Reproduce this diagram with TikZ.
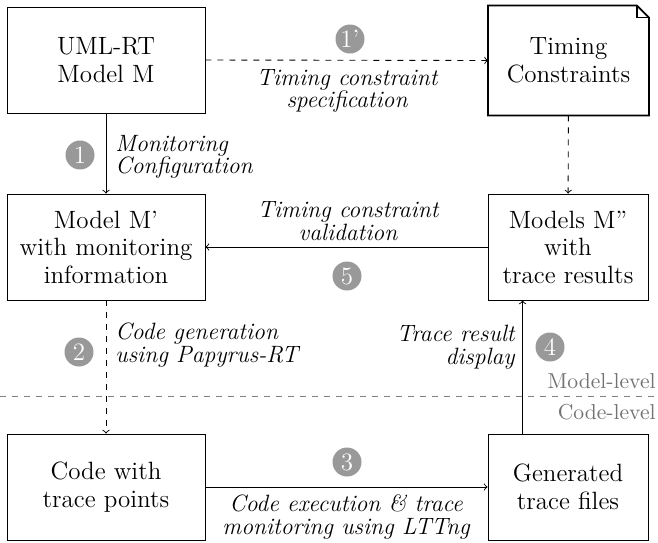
\documentclass[tikz,border=0pt]{standalone}
\usetikzlibrary{calc}

% Fonts for box captions, edge labels and the level annotations
\newcommand\boxfont{\fontsize{12.5}{13.75}\selectfont}
\newcommand\lblfont{\fontsize{11.8}{11.25}\selectfont\itshape}
\newcommand\lvlfont{\fontsize{10.8}{13}\selectfont}

\tikzset{
  box/.style={draw, line width=0.45pt, minimum width=99pt, minimum height=53pt,
              inner sep=0pt, align=center, font=\boxfont},
  rbox/.style={box, minimum width=80pt},
  lbl/.style={font=\lblfont, inner sep=0pt},
  badge/.style={circle, fill=black!40, text=white, minimum size=14.5pt,
                inner sep=0pt, font=\boxfont},
  flow/.style={->, line width=0.45pt},
  dflow/.style={flow, dashed},
  levelsep/.style={dashed, draw=black!50, line width=0.45pt},
  lvl/.style={font=\lvlfont, text=black!55, inner sep=0pt},
}

\begin{document}
\begin{tikzpicture}[x=0.5pt, y=-0.5pt]
  \useasboundingbox (0,0) rectangle (658,542);

  % Boxes
  \node[box]  (uml)  at (106,60)  {UML-RT\\Model M};
  \node[rbox, draw=none, minimum height=54.5pt] (tc) at (568.5,60.5) {Timing\\Constraints};
  \node[box]  (mp)   at (106,247) {Model M'\\with monitoring\\information};
  \node[rbox] (mpp)  at (568,247) {Models M''\\with\\trace results};
  \node[box]  (code) at (106,487) {Code with\\trace points};
  \node[rbox] (gen)  at (568,487) {Generated\\trace files};

  % Document outline with folded corner for the constraints
  \draw[line width=0.9pt] (tc.north west) -- ($(tc.north east)+(-12,0)$)
        -- ($(tc.north east)+(0,12)$) -- (tc.south east) -- (tc.south west) -- cycle;
  \draw[line width=0.9pt] ($(tc.north east)+(-12,0)$) -- ($(tc.north east)+(-12,12)$)
        -- ($(tc.north east)+(0,12)$);

  % Level separator
  \coordinate (sepL) at (0,396);
  \coordinate (sepR) at (658,396);
  \draw[levelsep] (sepL) -- (sepR);
  \node[lvl, anchor=base east] (mlvl) at (656,388) {Model-level};
  \node[lvl, anchor=base east] (clvl) at (656,419) {Code-level};

  % Flows
  \draw[dflow] (uml.east) -- (tc.west);
  \draw[flow]  (uml) -- (mp);
  \draw[dflow] (tc) -- (mpp);
  \draw[flow]  (mpp) -- (mp);
  \draw[dflow] (mp) -- (code);
  \draw[flow]  (code) -- (gen);
  \draw[flow]  ([xshift=17.5pt]gen.north west) -- ([xshift=17.5pt]mpp.south west);

  % Flow labels
  \node[lbl, anchor=west, align=left]   (l1)  at (115,157) {Monitoring\\Configuration};
  \node[lbl, align=center]              (l1p) at (347,91)  {Timing constraint\\specification};
  \node[lbl, align=center]              (l5)  at (348,221) {Timing constraint\\validation};
  \node[lbl, anchor=west, align=left]   (l2)  at (115,345) {Code generation\\using Papyrus-RT};
  \node[lbl, anchor=east, align=right]  (l4)  at (515,347) {Trace result\\display};
  \node[lbl, align=center]              (l3)  at (346,517) {Code execution \& trace\\monitoring using LTTng};

  % Step badges
  \node[badge] (s1)  at (80,155)  {1};
  \node[badge] (s1p) at (350,39)  {1'};
  \node[badge] (s2)  at (79,352)  {2};
  \node[badge] (s3)  at (347,462) {3};
  \node[badge] (s4)  at (550,347) {4};
  \node[badge] (s5)  at (347,276) {5};
\end{tikzpicture}
\end{document}
